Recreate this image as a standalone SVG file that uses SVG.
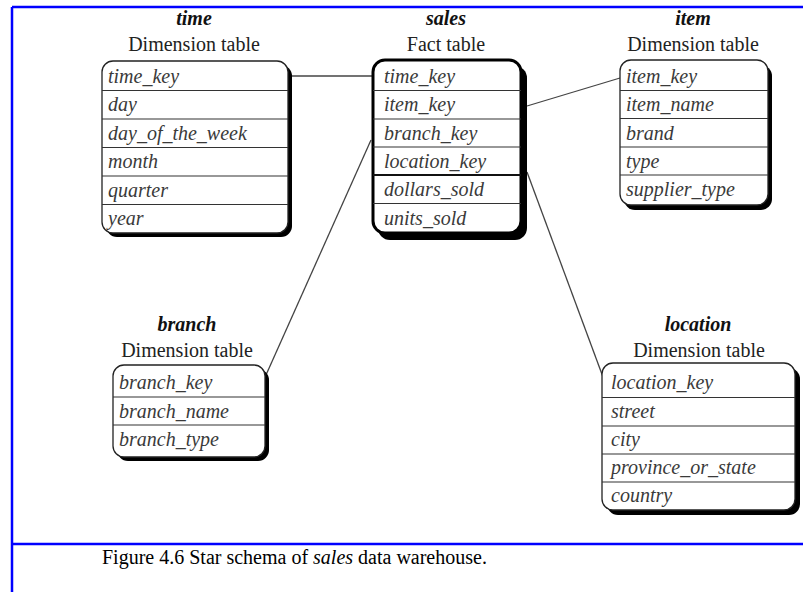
<svg xmlns="http://www.w3.org/2000/svg" width="803" height="592" viewBox="0 0 803 592">
  <style>
    .frame { stroke: #0000ff; stroke-width: 2.5; fill: none; }
    .shadow { fill: #000; }
    .box { fill: #fff; stroke: #222; stroke-width: 1.3; }
    .fact { fill: #fff; stroke: #000; stroke-width: 3; }
    .sep { stroke: #333; stroke-width: 1.2; }
    .sep-thick { stroke: #111; stroke-width: 2.2; }
    .name { font-family: "Liberation Serif", "Times New Roman", serif; font-size: 20px; font-style: italic; font-weight: bold; fill: #111; text-anchor: middle; }
    .kind { font-family: "Liberation Serif", "Times New Roman", serif; font-size: 20px; fill: #222; text-anchor: middle; }
    .attr { font-family: "Liberation Serif", "Times New Roman", serif; font-size: 20px; font-style: italic; fill: #3a3a3a; }
    .link { stroke: #444; stroke-width: 1.3; fill: none; }
    .caption { font-family: "Liberation Serif", "Times New Roman", serif; font-size: 20px; fill: #000; }
  </style>

  <rect width="803" height="592" fill="#fff"/>

  <!-- page frame -->
  <g id="frame">
    <line class="frame" x1="12" y1="7" x2="803" y2="7"/>
    <line class="frame" x1="12" y1="7" x2="12" y2="592"/>
    <line class="frame" x1="12" y1="544" x2="803" y2="544"/>
  </g>

  <!-- connectors between the fact table and the dimension tables -->
  <g id="connectors">
    <line class="link" x1="289" y1="76" x2="373" y2="76"/>
    <line class="link" x1="527" y1="106" x2="620" y2="78"/>
    <line class="link" x1="371" y1="140" x2="266" y2="375"/>
    <line class="link" x1="527" y1="172" x2="603" y2="377"/>
  </g>

  <!-- time dimension -->
  <g id="time">
    <text class="name" x="194" y="25">time</text>
    <text class="kind" x="194" y="51">Dimension table</text>
    <rect class="shadow" x="106" y="65" width="186" height="172" rx="11"/>
    <rect class="box" x="102" y="61" width="186" height="172" rx="11"/>
    <line class="sep" x1="102" y1="90.5" x2="288" y2="90.5"/>
    <line class="sep" x1="102" y1="119" x2="288" y2="119"/>
    <line class="sep" x1="102" y1="147.5" x2="288" y2="147.5"/>
    <line class="sep" x1="102" y1="176" x2="288" y2="176"/>
    <line class="sep" x1="102" y1="204.5" x2="288" y2="204.5"/>
    <text class="attr" x="108" y="83">time_key</text>
    <text class="attr" x="108" y="111">day</text>
    <text class="attr" x="108" y="139.5">day_of_the_week</text>
    <text class="attr" x="108" y="168">month</text>
    <text class="attr" x="108" y="196.5">quarter</text>
    <text class="attr" x="108" y="225">year</text>
  </g>

  <!-- sales fact table -->
  <g id="sales">
    <text class="name" x="446" y="25">sales</text>
    <text class="kind" x="446" y="51">Fact table</text>
    <rect class="shadow" x="378" y="66" width="149" height="174" rx="12"/>
    <rect class="fact" x="373" y="60" width="148" height="173" rx="12"/>
    <line class="sep" x1="373" y1="90.5" x2="521" y2="90.5"/>
    <line class="sep" x1="373" y1="119" x2="521" y2="119"/>
    <line class="sep" x1="373" y1="147" x2="521" y2="147"/>
    <line class="sep-thick" x1="373" y1="175" x2="521" y2="175"/>
    <line class="sep" x1="373" y1="203.5" x2="521" y2="203.5"/>
    <text class="attr" x="384" y="83">time_key</text>
    <text class="attr" x="384" y="111">item_key</text>
    <text class="attr" x="384" y="139.5">branch_key</text>
    <text class="attr" x="384" y="167.5">location_key</text>
    <text class="attr" x="384" y="196">dollars_sold</text>
    <text class="attr" x="384" y="224.5">units_sold</text>
  </g>

  <!-- item dimension -->
  <g id="item">
    <text class="name" x="693" y="25">item</text>
    <text class="kind" x="693" y="51">Dimension table</text>
    <rect class="shadow" x="624" y="65" width="148" height="145" rx="11"/>
    <rect class="box" x="620" y="60" width="148" height="145" rx="11"/>
    <line class="sep" x1="620" y1="90.5" x2="768" y2="90.5"/>
    <line class="sep" x1="620" y1="118.5" x2="768" y2="118.5"/>
    <line class="sep" x1="620" y1="147" x2="768" y2="147"/>
    <line class="sep" x1="620" y1="175" x2="768" y2="175"/>
    <text class="attr" x="626" y="83">item_key</text>
    <text class="attr" x="626" y="111">item_name</text>
    <text class="attr" x="626" y="139.5">brand</text>
    <text class="attr" x="626" y="167.5">type</text>
    <text class="attr" x="626" y="196">supplier_type</text>
  </g>

  <!-- branch dimension -->
  <g id="branch">
    <text class="name" x="187" y="331">branch</text>
    <text class="kind" x="187" y="357">Dimension table</text>
    <rect class="shadow" x="117" y="369" width="152" height="92" rx="11"/>
    <rect class="box" x="113" y="365" width="152" height="92" rx="11"/>
    <line class="sep" x1="113" y1="397" x2="265" y2="397"/>
    <line class="sep" x1="113" y1="425" x2="265" y2="425"/>
    <text class="attr" x="119" y="389">branch_key</text>
    <text class="attr" x="119" y="418">branch_name</text>
    <text class="attr" x="119" y="446">branch_type</text>
  </g>

  <!-- location dimension -->
  <g id="location">
    <text class="name" x="698" y="331">location</text>
    <text class="kind" x="699" y="357">Dimension table</text>
    <rect class="shadow" x="607" y="368" width="193" height="147" rx="11"/>
    <rect class="box" x="602" y="363" width="193" height="147" rx="11"/>
    <line class="sep" x1="602" y1="397.5" x2="795" y2="397.5"/>
    <line class="sep" x1="602" y1="426" x2="795" y2="426"/>
    <line class="sep" x1="602" y1="454" x2="795" y2="454"/>
    <line class="sep" x1="602" y1="482" x2="795" y2="482"/>
    <text class="attr" x="611" y="389">location_key</text>
    <text class="attr" x="611" y="418">street</text>
    <text class="attr" x="611" y="446">city</text>
    <text class="attr" x="611" y="474">province_or_state</text>
    <text class="attr" x="611" y="502">country</text>
  </g>

  <!-- figure caption -->
  <g id="caption">
    <text class="caption" x="102" y="564">Figure 4.6 Star schema of <tspan font-style="italic">sales</tspan> data warehouse.</text>
  </g>
</svg>
